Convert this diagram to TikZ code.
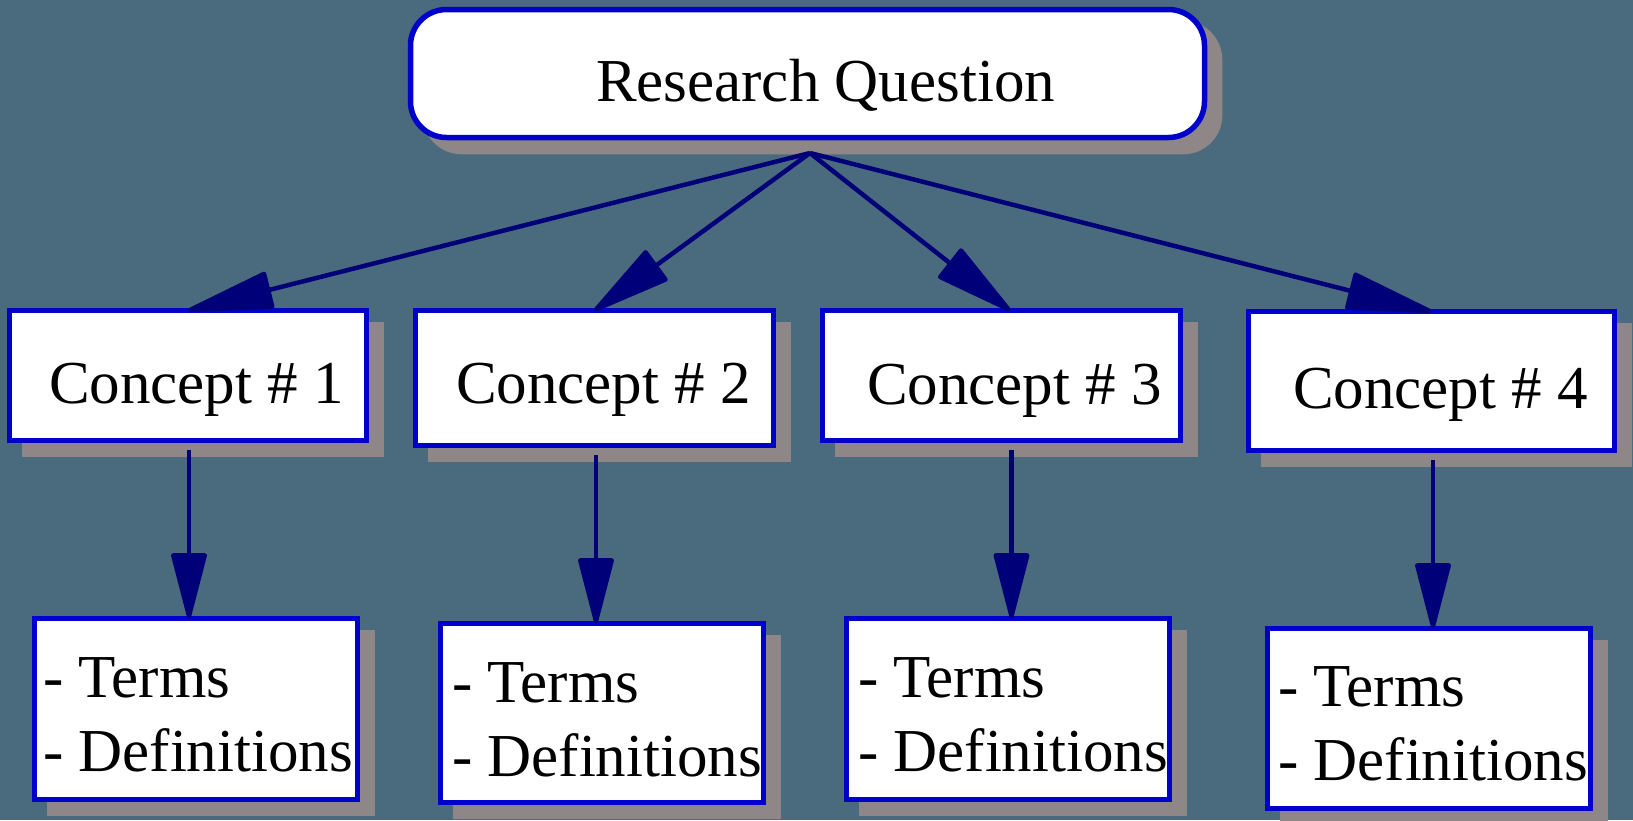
\documentclass[tikz,border=0pt]{standalone}
\usepackage{fontspec}
\setmainfont{Liberation Serif}
\usetikzlibrary{arrows.meta,shadows,calc}
\definecolor{bgcol}{RGB}{74,107,126}
\definecolor{boxblue}{RGB}{0,0,204}
\definecolor{arrownavy}{RGB}{0,0,120}
\definecolor{shadowgray}{RGB}{143,135,135}
\begin{document}
\begin{tikzpicture}[x=1pt,y=-1pt,
  box/.style={draw=boxblue, line width=5.5pt, fill=white, rectangle, inner sep=0pt, outer sep=0pt,
    drop shadow={shadow xshift=15pt, shadow yshift=-14pt, opacity=1, fill=shadowgray, draw=shadowgray, line width=5.5pt}},
  rqbox/.style={box, rounded corners=36pt},
  txt/.style={font=\fontsize{61}{74}\selectfont, inner sep=0pt, outer sep=0pt, anchor=base west, text=black},
  link/.style={draw=arrownavy, line width=4.5pt},
  vlink/.style={draw=arrownavy, line width=4.3pt, -{Triangle[length=72pt,width=36pt,round]}}
]
\fill[bgcol] (0,0) rectangle (1633,820);
\useasboundingbox (0,0) rectangle (1633,820);

% top node
\node[rqbox, minimum width=794pt, minimum height=128pt] (rq) at (807.5,73.5) {};
\node[txt] (rqt) at (596,101) {Research Question};

% concept boxes
\node[box, minimum width=357pt, minimum height=130pt] (c1) at (188,375.5) {};
\node[box, minimum width=358pt, minimum height=135pt] (c2) at (594.5,378) {};
\node[box, minimum width=358pt, minimum height=130pt] (c3) at (1001.5,375.5) {};
\node[box, minimum width=366pt, minimum height=139pt] (c4) at (1431.5,381) {};
\node[txt] (c1t) at (49,403) {Concept \# 1};
\node[txt] (c2t) at (456,403) {Concept \# 2};
\node[txt] (c3t) at (867,404) {Concept \# 3};
\node[txt] (c4t) at (1293,408) {Concept \# 4};

% definition boxes
\node[box, minimum width=323pt, minimum height=181pt] (d1) at (196,709) {};
\node[box, minimum width=323pt, minimum height=179pt] (d2) at (602,713) {};
\node[box, minimum width=323pt, minimum height=181pt] (d3) at (1008,709) {};
\node[box, minimum width=323pt, minimum height=180pt] (d4) at (1429,718.5) {};
\node[txt] (d1t) at (43,697) {\begin{tabular}[t]{@{}l@{}}- Terms\\- Definitions\end{tabular}};
\node[txt] (d2t) at (452,702) {\begin{tabular}[t]{@{}l@{}}- Terms\\- Definitions\end{tabular}};
\node[txt] (d3t) at (858,697) {\begin{tabular}[t]{@{}l@{}}- Terms\\- Definitions\end{tabular}};
\node[txt] (d4t) at (1278,706) {\begin{tabular}[t]{@{}l@{}}- Terms\\- Definitions\end{tabular}};

% connectors
\coordinate (hub) at ($(rq.south)+(2.5,15.5)$);
\draw[link, -{Triangle[length=94pt,width=38pt,round]}] (hub) -- (c1.north);
\draw[link, -{Triangle[length=86pt,width=38pt,round]}] (hub) -- (c2.north);
\draw[link, -{Triangle[length=86pt,width=38pt,round]}] (hub) -- ([xshift=8.5pt]c3.north);
\draw[link, -{Triangle[length=94pt,width=38pt,round]}] (hub) -- (c4.north);

\draw[vlink] ([xshift=1pt,yshift=-9.5pt]c1.south) -- ([xshift=1pt]c1.south |- d1.north);
\draw[vlink] ([xshift=1.5pt,yshift=-9.5pt]c2.south) -- ([xshift=1.5pt]c2.south |- d2.north);
\draw[vlink] ([xshift=10pt,yshift=-9.5pt]c3.south) -- ([xshift=10pt]c3.south |- d3.north);
\draw[vlink] ([xshift=1.5pt,yshift=-9.5pt]c4.south) -- ([xshift=1.5pt]c4.south |- d4.north);
\end{tikzpicture}
\end{document}
